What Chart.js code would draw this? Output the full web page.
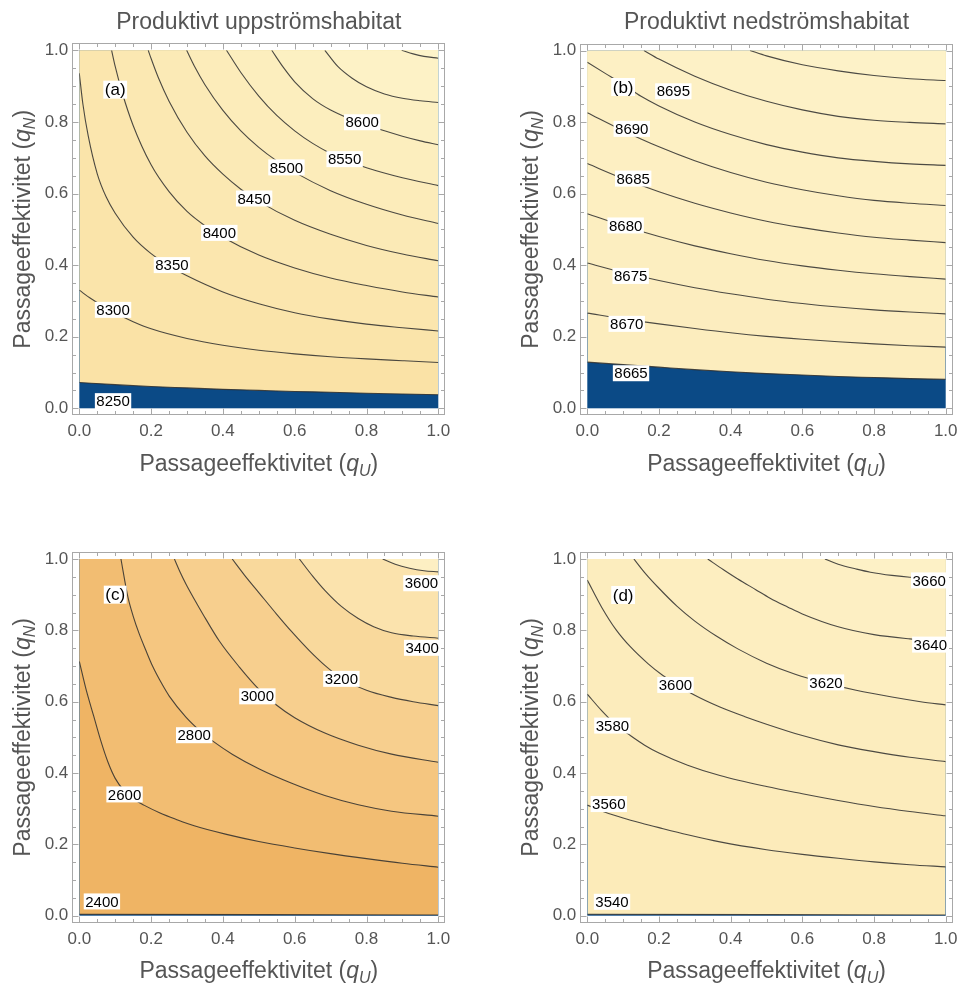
<!DOCTYPE html>
<html>
<head>
<meta charset="utf-8">
<script src="https://cdn.jsdelivr.net/npm/chart.js@4.4.1/dist/chart.umd.min.js"></script>
<style>
  html, body { margin: 0; padding: 0; background: #fff; }
  #wrap { position: relative; width: 958px; height: 986px; overflow: hidden; }
  #wrap canvas { position: absolute; left: 0; top: 0; }
</style>
</head>
<body>
<div id="wrap">
  <canvas id="pa" width="1000" height="1030"></canvas>
  <canvas id="pb" width="1000" height="1030"></canvas>
  <canvas id="pc" width="1000" height="1030"></canvas>
  <canvas id="pd" width="1000" height="1030"></canvas>
</div>
<script>
// ---- axis ticks (both axes, all panels) ----
const tickValues = [0.0, 0.2, 0.4, 0.6, 0.8, 1.0];

// ---- panel (a): productive upstream habitat, scenario 1 ----
const levelsA = [8250, 8300, 8350, 8400, 8450, 8500, 8550, 8600, 8650, 8700];
const curvesA = [
  [[0,0.072],[0.1,0.066],[0.2,0.061],[0.3,0.057],[0.4,0.053],[0.5,0.05],[0.6,0.047],[0.7,0.045],[0.8,0.042],[0.9,0.04],[1,0.038]],
  [[0,0.33],[0.03,0.308],[0.06,0.289],[0.1,0.266],[0.15,0.242],[0.2,0.222],[0.3,0.195],[0.4,0.176],[0.5,0.162],[0.6,0.152],[0.7,0.144],[0.8,0.138],[0.9,0.133],[1,0.128]],
  [[0,0.936],[0.01,0.85],[0.025,0.76],[0.05,0.655],[0.075,0.59],[0.1,0.545],[0.15,0.478],[0.2,0.432],[0.26,0.392],[0.3,0.37],[0.4,0.325],[0.5,0.292],[0.6,0.267],[0.7,0.249],[0.8,0.235],[0.9,0.225],[1,0.216]],
  [[0.09,1],[0.1,0.955],[0.12,0.88],[0.15,0.79],[0.2,0.68],[0.25,0.605],[0.3,0.55],[0.35,0.51],[0.4,0.478],[0.5,0.428],[0.6,0.392],[0.7,0.364],[0.8,0.343],[0.9,0.325],[1,0.311]],
  [[0.192,1],[0.2,0.977],[0.22,0.924],[0.25,0.858],[0.3,0.771],[0.35,0.705],[0.4,0.654],[0.45,0.612],[0.5,0.578],[0.6,0.525],[0.7,0.486],[0.8,0.455],[0.9,0.431],[1,0.412]],
  [[0.299,1],[0.32,0.957],[0.35,0.904],[0.4,0.832],[0.45,0.775],[0.5,0.729],[0.55,0.691],[0.6,0.659],[0.7,0.608],[0.8,0.57],[0.9,0.54],[1,0.516]],
  [[0.41,1],[0.45,0.938],[0.5,0.872],[0.55,0.818],[0.6,0.775],[0.65,0.74],[0.7,0.712],[0.75,0.69],[0.8,0.672],[0.9,0.644],[1,0.622]],
  [[0.536,1],[0.57,0.95],[0.6,0.912],[0.65,0.865],[0.7,0.833],[0.75,0.81],[0.8,0.792],[0.85,0.775],[0.9,0.76],[0.95,0.747],[1,0.736]],
  [[0.684,1],[0.72,0.955],[0.76,0.922],[0.8,0.898],[0.85,0.878],[0.9,0.866],[0.95,0.859],[1,0.854]],
  [[0.898,1],[0.93,0.99],[0.96,0.983],[1,0.978]]
];
const labelPosA = [[0.094,0.02],[0.094,0.275],[0.258,0.40],[0.39,0.49],[0.487,0.586],[0.577,0.673],[0.739,0.696],[0.788,0.799],null,null];
const bandsA = ['#fae2a6','#fae4aa','#fbe6ae','#fbe8b2','#fbeab6','#fcecba','#fceebe','#fcf0c2','#fdf2c6','#fdf4ca'];

// ---- panel (b): productive downstream habitat, scenario 1 ----
const levelsB = [8665, 8670, 8675, 8680, 8685, 8690, 8695, 8700, 8705];
const curvesB = [
  [[0,0.129],[0.1,0.122],[0.2,0.115],[0.3,0.108],[0.4,0.102],[0.5,0.097],[0.6,0.093],[0.7,0.089],[0.8,0.086],[0.9,0.083],[1,0.081]],
  [[0,0.266],[0.1,0.25],[0.2,0.236],[0.3,0.223],[0.4,0.211],[0.5,0.201],[0.6,0.193],[0.7,0.186],[0.8,0.18],[0.9,0.175],[1,0.171]],
  [[0,0.406],[0.1,0.38],[0.2,0.357],[0.3,0.337],[0.4,0.32],[0.5,0.305],[0.6,0.293],[0.7,0.283],[0.8,0.275],[0.9,0.269],[1,0.264]],
  [[0,0.544],[0.1,0.51],[0.2,0.48],[0.3,0.454],[0.4,0.432],[0.5,0.413],[0.6,0.398],[0.7,0.386],[0.8,0.376],[0.9,0.368],[1,0.361]],
  [[0,0.684],[0.1,0.642],[0.2,0.605],[0.3,0.573],[0.4,0.546],[0.5,0.523],[0.6,0.505],[0.7,0.49],[0.8,0.478],[0.9,0.47],[1,0.463]],
  [[0,0.826],[0.1,0.776],[0.2,0.731],[0.3,0.692],[0.4,0.659],[0.5,0.632],[0.6,0.611],[0.7,0.594],[0.8,0.581],[0.9,0.573],[1,0.567]],
  [[0,0.967],[0.05,0.936],[0.1,0.905],[0.15,0.872],[0.2,0.845],[0.3,0.8],[0.4,0.765],[0.5,0.737],[0.6,0.716],[0.7,0.7],[0.8,0.69],[0.9,0.683],[1,0.679]],
  [[0.158,1],[0.2,0.976],[0.3,0.928],[0.4,0.889],[0.5,0.858],[0.6,0.834],[0.7,0.816],[0.8,0.805],[0.9,0.799],[1,0.795]],
  [[0.454,1],[0.5,0.985],[0.6,0.96],[0.7,0.943],[0.8,0.93],[0.9,0.921],[1,0.916]]
];
const labelPosB = [[0.122,0.098],[0.11,0.236],[0.121,0.37],[0.107,0.511],[0.128,0.642],[0.124,0.781],[0.24,0.886],null,null];
const bandsB = ['#fcedbe','#fcedbf','#fceec0','#fdefc1','#fdefc2','#fdf0c3','#fdf0c4','#fdf1c6','#fdf2c8'];

// ---- panel (c): productive upstream habitat, scenario 2 ----
const levelsC = [2400, 2600, 2800, 3000, 3200, 3400, 3600];
const curvesC = [
  [[0,0.004],[0.5,0.003],[1,0.002]],
  [[0,0.713],[0.02,0.63],[0.04,0.56],[0.06,0.49],[0.08,0.43],[0.1,0.385],[0.125,0.35],[0.15,0.328],[0.18,0.31],[0.225,0.288],[0.27,0.27],[0.32,0.252],[0.41,0.228],[0.5,0.208],[0.6,0.19],[0.7,0.174],[0.8,0.16],[0.9,0.147],[1,0.136]],
  [[0.116,1],[0.135,0.895],[0.15,0.84],[0.167,0.79],[0.185,0.745],[0.204,0.7],[0.23,0.65],[0.251,0.615],[0.297,0.557],[0.34,0.515],[0.371,0.49],[0.427,0.452],[0.5,0.412],[0.59,0.372],[0.684,0.337],[0.777,0.311],[0.87,0.293],[1,0.279]],
  [[0.265,1],[0.28,0.965],[0.297,0.93],[0.32,0.888],[0.344,0.846],[0.39,0.77],[0.446,0.697],[0.5,0.635],[0.55,0.59],[0.6,0.555],[0.684,0.512],[0.777,0.478],[0.87,0.453],[1,0.43]],
  [[0.426,1],[0.46,0.955],[0.5,0.906],[0.55,0.845],[0.591,0.797],[0.64,0.744],[0.684,0.702],[0.73,0.666],[0.8,0.632],[0.87,0.612],[0.93,0.6],[1,0.589]],
  [[0.613,1],[0.65,0.952],[0.684,0.912],[0.73,0.867],[0.777,0.833],[0.82,0.81],[0.87,0.793],[0.93,0.784],[1,0.778]],
  [[0.845,1],[0.88,0.985],[0.92,0.974],[0.96,0.967],[1,0.964]]
];
const labelPosC = [[0.063,0.04],[0.126,0.34],[0.32,0.506],[0.496,0.615],[0.73,0.664],[0.955,0.751],[0.953,0.932]];
const bandsC = ['#efb464','#f2bd72','#f5c680','#f7cf8e','#f9d99c','#fbe3ad','#fdefc3'];

// ---- panel (d): productive downstream habitat, scenario 2 ----
const levelsD = [3540, 3560, 3580, 3600, 3620, 3640, 3660];
const curvesD = [
  [[0,0.004],[0.5,0.003],[1,0.002]],
  [[0,0.31],[0.05,0.29],[0.1,0.274],[0.15,0.26],[0.2,0.247],[0.28,0.227],[0.37,0.207],[0.5,0.185],[0.6,0.172],[0.7,0.161],[0.8,0.151],[0.9,0.143],[1,0.137]],
  [[0,0.621],[0.04,0.575],[0.08,0.535],[0.12,0.505],[0.16,0.478],[0.2,0.456],[0.28,0.422],[0.37,0.393],[0.5,0.362],[0.6,0.342],[0.7,0.323],[0.8,0.306],[0.9,0.292],[1,0.28]],
  [[0,0.941],[0.04,0.865],[0.08,0.802],[0.12,0.754],[0.17,0.706],[0.21,0.674],[0.25,0.648],[0.3,0.618],[0.37,0.585],[0.44,0.558],[0.5,0.537],[0.6,0.505],[0.7,0.479],[0.8,0.46],[0.9,0.444],[1,0.432]],
  [[0.13,1],[0.16,0.962],[0.2,0.918],[0.25,0.868],[0.3,0.826],[0.36,0.784],[0.42,0.748],[0.5,0.708],[0.58,0.677],[0.666,0.652],[0.75,0.632],[0.85,0.613],[0.93,0.6],[1,0.591]],
  [[0.336,1],[0.38,0.97],[0.42,0.944],[0.47,0.914],[0.51,0.89],[0.56,0.865],[0.6,0.846],[0.7,0.81],[0.8,0.788],[0.9,0.776],[1,0.768]],
  [[0.663,1],[0.7,0.985],[0.75,0.972],[0.79,0.963],[0.85,0.954],[0.9,0.949],[1,0.946]]
];
const labelPosD = [[0.069,0.039],[0.06,0.313],[0.07,0.533],[0.246,0.647],[0.666,0.654],[0.957,0.76],[0.954,0.94]];
const bandsD = ['#fcebb9','#fcebba','#fcecbc','#fcedbe','#fdeec0','#fdefc3','#fdf1c6'];

// ---- styling ----
const FONT = '"Liberation Sans", Arial, sans-serif';
const BELOW_COLOR = '#0b4a86';
const TEXT_GREY = '#555555';
const FRAME_GAP = 7;
const CW = 1000, CH = 1030;

Chart.defaults.font.family = FONT;

const panels = [
  { id: 'pa', tag: '(a)', tagPos: [0.1, 0.89], title: 'Produktivt uppströmshabitat',
    levels: levelsA, curves: curvesA, labels: labelPosA, bands: bandsA,
    area: { left: 79.3, top: 50.3, right: 438.3, bottom: 408.3 } },
  { id: 'pb', tag: '(b)', tagPos: [0.1, 0.898], title: 'Produktivt nedströmshabitat',
    levels: levelsB, curves: curvesB, labels: labelPosB, bands: bandsB,
    area: { left: 587.3, top: 50.5, right: 945.7, bottom: 408.3 } },
  { id: 'pc', tag: '(c)', tagPos: [0.1, 0.9], title: null,
    levels: levelsC, curves: curvesC, labels: labelPosC, bands: bandsC,
    area: { left: 79.3, top: 559, right: 438.3, bottom: 915.7 } },
  { id: 'pd', tag: '(d)', tagPos: [0.1, 0.899], title: null,
    levels: levelsD, curves: curvesD, labels: labelPosD, bands: bandsD,
    area: { left: 587.3, top: 559, right: 945.7, bottom: 915.7 } }
];

// Draws "Passageeffektivitet (q_S)" with an italic q and a lowered, smaller subscript.
function drawAxisTitle(ctx, sub, cx, baseY, rotate) {
  const parts = [
    { t: 'Passageeffektivitet (', f: `23px ${FONT}`, dy: 0 },
    { t: 'q', f: `italic 23px ${FONT}`, dy: 0 },
    { t: sub, f: `italic 16px ${FONT}`, dy: 5 },
    { t: ')', f: `23px ${FONT}`, dy: 0 }
  ];
  ctx.save();
  let total = 0;
  parts.forEach(p => { ctx.font = p.f; p.w = ctx.measureText(p.t).width; total += p.w; });
  if (rotate) {
    ctx.translate(baseY, cx);
    ctx.rotate(-Math.PI / 2);
  } else {
    ctx.translate(cx, baseY);
  }
  ctx.fillStyle = TEXT_GREY;
  ctx.textBaseline = 'alphabetic';
  ctx.textAlign = 'left';
  let x = -total / 2;
  parts.forEach(p => { ctx.font = p.f; ctx.fillText(p.t, x, p.dy); x += p.w; });
  ctx.restore();
}

function labelBox(ctx, text, px, py, size) {
  ctx.font = `${size}px ${FONT}`;
  const w = ctx.measureText(text).width + 3;
  const h = size + 1;
  ctx.fillStyle = '#ffffff';
  ctx.fillRect(px - w / 2, py - h / 2, w, h);
  ctx.fillStyle = '#000000';
  ctx.fillText(text, px, py + 1);
}

function decoPlugin(p) {
  return {
    id: 'contourDeco',
    beforeDatasetsDraw(chart) {
      const { ctx, chartArea: a } = chart;
      ctx.save();
      ctx.fillStyle = BELOW_COLOR;
      ctx.fillRect(a.left, a.top, a.right - a.left, a.bottom - a.top);
      ctx.restore();
    },
    afterDatasetsDraw(chart) {
      const { ctx } = chart;
      const xs = chart.scales.x, ys = chart.scales.y;
      ctx.save();
      ctx.textAlign = 'center';
      ctx.textBaseline = 'middle';
      p.labels.forEach((pos, i) => {
        if (!pos) return;
        labelBox(ctx, String(p.levels[i]), xs.getPixelForValue(pos[0]), ys.getPixelForValue(pos[1]), 15);
      });
      labelBox(ctx, p.tag, xs.getPixelForValue(p.tagPos[0]), ys.getPixelForValue(p.tagPos[1]), 17);
      ctx.restore();
    },
    afterDraw(chart) {
      const { ctx, chartArea: a } = chart;
      const xs = chart.scales.x, ys = chart.scales.y;
      const L = Math.round(a.left - FRAME_GAP) + 0.5, R = Math.round(a.right + FRAME_GAP) - 0.5;
      const T = Math.round(a.top - FRAME_GAP) + 0.5, B = Math.round(a.bottom + FRAME_GAP) - 0.5;
      ctx.save();
      ctx.strokeStyle = '#a8a8a8';
      ctx.lineWidth = 1;
      ctx.strokeRect(L, T, R - L, B - T);
      ctx.beginPath();
      for (let k = 0; k <= 20; k++) {
        const v = k / 20;
        const len = (k % 4 === 0) ? 6 : 3.5;
        const px = Math.round(xs.getPixelForValue(v)) + 0.5;
        const py = Math.round(ys.getPixelForValue(v)) + 0.5;
        ctx.moveTo(px, B); ctx.lineTo(px, B - len);
        ctx.moveTo(px, T); ctx.lineTo(px, T + len);
        ctx.moveTo(L, py); ctx.lineTo(L + len, py);
        ctx.moveTo(R, py); ctx.lineTo(R - len, py);
      }
      ctx.stroke();
      ctx.restore();
      drawAxisTitle(ctx, 'U', (a.left + a.right) / 2, a.bottom + 62.7, false);
      drawAxisTitle(ctx, 'N', (a.top + a.bottom) / 2, a.left - 49, true);
    }
  };
}

function makePanel(p) {
  const hasTitle = !!p.title;
  const yAxisW = 60;
  const xAxisH = 30;
  const titleLine = 23 * 1.2;
  const datasets = p.levels.map((lv, i) => ({
    label: String(lv),
    data: p.curves[i].map(([x, y]) => ({ x, y })),
    borderColor: 'rgba(45,45,45,0.85)',
    borderWidth: 1.1,
    backgroundColor: p.bands[i],
    fill: 'end',
    pointRadius: 0,
    cubicInterpolationMode: 'monotone',
    order: p.levels.length - i
  }));
  const tickFont = { size: 17, family: FONT };
  new Chart(document.getElementById(p.id), {
    type: 'line',
    data: { datasets },
    options: {
      responsive: false,
      animation: false,
      events: [],
      layout: {
        padding: {
          left: p.area.left - yAxisW,
          top: hasTitle ? 0 : p.area.top,
          right: CW - p.area.right,
          bottom: CH - p.area.bottom - xAxisH
        }
      },
      plugins: {
        legend: { display: false },
        tooltip: { enabled: false },
        title: {
          display: hasTitle,
          fullSize: false,
          text: p.title || '',
          color: TEXT_GREY,
          font: { size: 23, weight: 'normal', family: FONT },
          padding: { top: 8.5, bottom: p.area.top - 8.5 - titleLine }
        }
      },
      scales: {
        x: {
          type: 'linear', min: 0, max: 1,
          afterFit: s => { s.height = xAxisH; },
          afterBuildTicks: s => { s.ticks = tickValues.map(v => ({ value: v })); },
          grid: { display: false, drawTicks: false },
          border: { display: false },
          ticks: { padding: 13, maxRotation: 0, autoSkip: false, color: TEXT_GREY, font: tickFont,
                   callback: v => Number(v).toFixed(1) }
        },
        y: {
          type: 'linear', min: 0, max: 1,
          afterFit: s => { s.width = yAxisW; },
          afterBuildTicks: s => { s.ticks = tickValues.map(v => ({ value: v })); },
          grid: { display: false, drawTicks: false },
          border: { display: false },
          ticks: { padding: 11, autoSkip: false, color: TEXT_GREY, font: tickFont,
                   callback: v => Number(v).toFixed(1) }
        }
      }
    },
    plugins: [decoPlugin(p)]
  });
}

panels.forEach(makePanel);
</script>
</body>
</html>
